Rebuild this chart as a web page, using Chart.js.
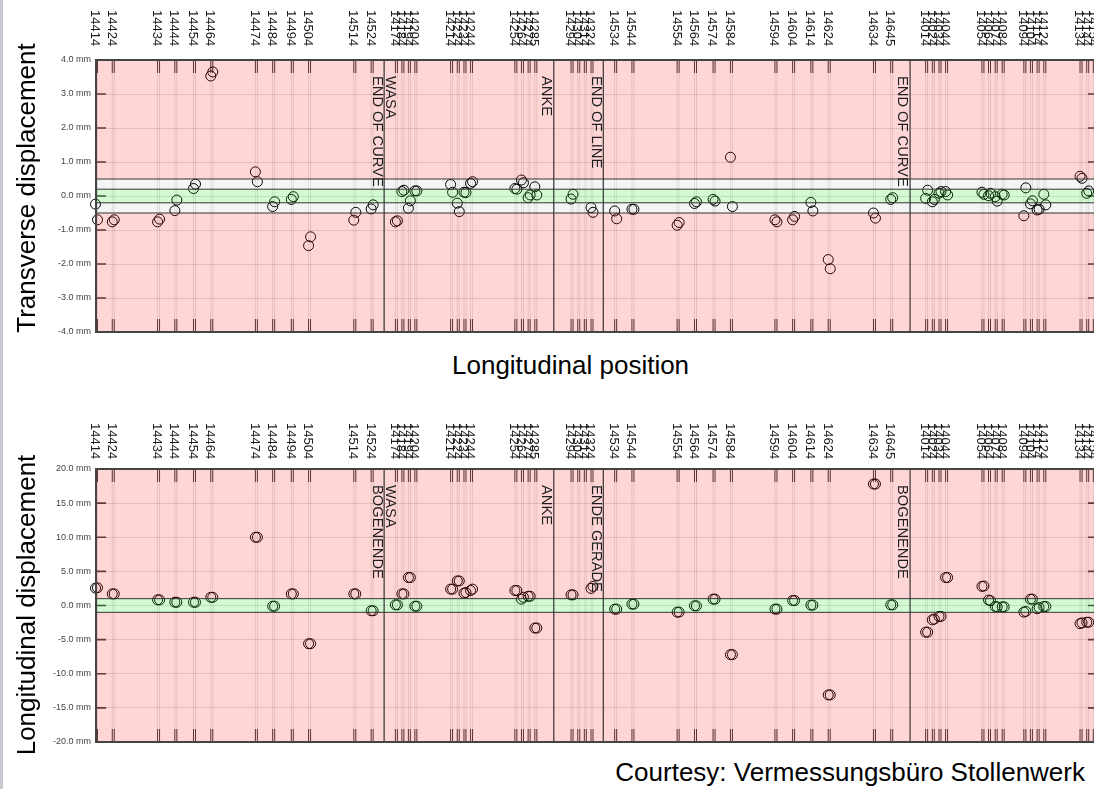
<!DOCTYPE html>
<html><head><meta charset="utf-8">
<script src="https://cdn.jsdelivr.net/npm/chart.js@4.4.1/dist/chart.umd.min.js"></script>
<style>
html,body{margin:0;padding:0;background:#fff;overflow:hidden;width:1094px;height:789px;position:relative;font-family:"Liberation Sans",Arial,sans-serif;}
#strip{position:absolute;left:0;top:0;width:3px;height:789px;background:#c9c9d0;}
#c1{position:absolute;left:0;top:0;}
#c2{position:absolute;left:0;top:409px;}
.t{position:absolute;font-size:26px;line-height:26px;color:#000;white-space:nowrap;}
.yt{position:absolute;font-size:26px;line-height:26px;height:26px;width:360px;text-align:center;color:#000;white-space:nowrap;transform:rotate(-90deg);}
</style></head><body>
<canvas id="c1" width="1104" height="345"></canvas>
<canvas id="c2" width="1104" height="345"></canvas>
<div class="yt" style="left:-154px;top:175px">Transverse displacement</div>
<div class="yt" style="left:-154px;top:592px">Longitudinal displacement</div>
<div class="t" style="left:452px;top:352px">Longitudinal position</div>
<div class="t" style="right:9px;top:759px">Courtesy: Vermessungsbüro Stollenwerk</div>
<div id="strip"></div>
<script>
// ---- data ----
const sensorIds = [14414,14424,14434,14444,14454,14464,14474,14484,14494,14504,14514,14524,
  14174,14184,14194,14204, 14214,14224,14234,14244, 14254,14264,14274,14285, 14294,14304,14314,14324,
  14534,14544,14554,14564,14574,14584,14594,14604,14614,14624,14634,14645,
  14014,14024,14034,14044, 14054,14064,14074,14084, 14094,14104,14114,14124, 14134,14144,14154,14164];
const sensorPos = [0.5,17.3,62.7,80,98.7,116,160.7,178,196.7,214,259.3,276.7,
  301,307.5,314,320.5, 356.3,363,369.7,376.3, 420.7,427.3,434,440.7, 477,483.7,490.3,497,
  520.7,538,583.3,600.7,619.3,636.7,681.3,699,717.3,734.7,780,797.3,
  832.3,839,845.7,852.3, 888.7,895.3,902,909, 930.7,937.3,944,950.7, 987,993.7,1000.3,1007];
const transA = [-0.24,-0.76,-0.76,-0.43,0.22,3.53,0.71,-0.31,-0.10,-1.46,-0.71,-0.38,
  -0.76,0.13,-0.36,0.15, 0.34,-0.21,0.11,0.37, 0.22,0.47,-0.05,0.27, -0.09,null,null,-0.34,
  -0.44,-0.39,-0.86,-0.22,-0.10,1.14,-0.70,-0.70,-0.19,-1.87,-0.50,-0.10,
  -0.07,-0.17,0.08,0.13, 0.11,0.01,-0.02,0.05, -0.58,-0.23,-0.41,0.05, 0.58,0.08,null,null];
const transB = [-0.70,-0.70,-0.68,-0.12,0.35,3.65,0.42,-0.17,-0.02,-1.20,-0.48,-0.26,
  -0.73,0.17,-0.14,0.15, 0.11,-0.46,0.10,0.42, 0.20,0.39,0.03,0.03, 0.05,null,null,-0.48,
  -0.67,-0.39,-0.78,-0.17,-0.15,-0.31,-0.76,-0.60,-0.44,-2.14,-0.65,-0.05,
  0.17,-0.10,0.13,0.03, 0.05,0.08,-0.15,0.03, 0.24,-0.14,-0.39,-0.26, 0.52,0.15,null,null];
const longA = [2.55,1.7,0.83,0.48,0.48,1.2,10.0,-0.1,1.7,-5.6,1.7,-0.77,
  0.1,1.7,4.1,-0.1, 2.4,3.6,1.8,2.2, 2.2,0.93,1.35,-3.3, 1.56,null,null,2.5,
  -0.53,0.2,-0.97,-0.05,0.93,-7.2,-0.53,0.73,0.06,-13.1,17.8,0.1,
  -3.9,-2.1,-1.6,4.1, 2.8,0.8,-0.15,-0.2, -0.97,0.93,-0.48,-0.15, -2.65,-2.45,null,null];
const longB = [2.6,1.7,0.83,0.48,0.48,1.2,10.0,-0.1,1.7,-5.6,1.7,-0.77,
  0.1,1.7,4.1,-0.1, 2.4,3.6,1.9,2.4, 2.2,1.2,1.35,-3.3, 1.56,null,null,2.8,
  -0.53,0.2,-0.97,-0.05,0.93,-7.2,-0.53,0.73,0.06,-13.1,17.8,0.1,
  -3.9,-2.0,-1.6,4.1, 2.85,0.7,-0.2,-0.2, -0.87,0.93,-0.3,-0.15, -2.55,-2.45,null,null];
const markerPos = [288.7, 458.7, 508.3, 815.7];
const markerLabelsEN = [['WASA','END OF CURVE'],['ANKE'],['END OF LINE'],['END OF CURVE']];
const markerLabelsDE = [['WASA','BOGENENDE'],['ANKE'],['ENDE GERADE'],['BOGENENDE']];
const transTolerance = [0.5, 0.2];
const longTolerance = [1.0];
const transRange = [-4, 4, 1];
const longRange = [-20, 20, 5];
const xRange = [0, 1004];

// ---- drawing ----
const PAIR = 1;
const FONT = '"Liberation Sans", Arial, sans-serif';

function zones(tol, lim) {
  const z = [];
  const outer = tol[0];
  z.push([lim, outer, 'rgba(255,0,0,0.16)']);
  z.push([-outer, -lim, 'rgba(255,0,0,0.16)']);
  if (tol.length > 1) {
    z.push([outer, tol[1], 'rgba(0,0,0,0.04)']);
    z.push([-tol[1], -outer, 'rgba(0,0,0,0.04)']);
    z.push([tol[1], -tol[1], 'rgba(0,225,0,0.17)']);
  } else {
    z.push([outer, -outer, 'rgba(0,225,0,0.17)']);
  }
  return z;
}

function makePlugin(name, tol, range, markerLabels, labelGap) {
  return {
    id: 'deco_' + name,
    beforeDatasetsDraw(chart) {
      const {ctx, chartArea: a, scales: {x, y}} = chart;
      ctx.save();
      ctx.beginPath(); ctx.rect(a.left, a.top, a.right - a.left, a.bottom - a.top); ctx.clip();
      ctx.lineWidth = 1;
      ctx.strokeStyle = 'rgba(0,0,0,0.11)';
      sensorPos.forEach(p => [-PAIR, PAIR].forEach(o => {
        const px = x.getPixelForValue(p + o);
        ctx.beginPath(); ctx.moveTo(px, a.top); ctx.lineTo(px, a.bottom); ctx.stroke();
      }));
      ctx.strokeStyle = '#3e3e3e';
      sensorPos.forEach(p => [-PAIR, PAIR].forEach(o => {
        const px = x.getPixelForValue(p + o);
        ctx.beginPath(); ctx.moveTo(px, a.top); ctx.lineTo(px, a.top + 13);
        ctx.moveTo(px, a.bottom); ctx.lineTo(px, a.bottom - 13); ctx.stroke();
      }));
      ctx.lineWidth = 1.6;
      ctx.strokeStyle = '#444';
      for (let v = range[0]; v <= range[1]; v += range[2]) {
        const py = y.getPixelForValue(v);
        ctx.beginPath(); ctx.moveTo(a.left, py); ctx.lineTo(a.left + 10, py);
        ctx.moveTo(a.right, py); ctx.lineTo(a.right - 10, py); ctx.stroke();
      }
      ctx.restore();
    },
    afterDatasetsDraw(chart) {
      const {ctx, chartArea: a, scales: {x, y}} = chart;
      ctx.save();
      ctx.beginPath(); ctx.rect(a.left, a.top, a.right - a.left, a.bottom - a.top); ctx.clip();
      zones(tol, range[1]).forEach(([v1, v2, c]) => {
        const y1 = y.getPixelForValue(v1), y2 = y.getPixelForValue(v2);
        ctx.fillStyle = c;
        ctx.fillRect(a.left, y1, a.right - a.left, y2 - y1);
      });
      ctx.strokeStyle = '#333'; ctx.lineWidth = 1;
      tol.forEach(t => [t, -t].forEach(v => {
        const py = y.getPixelForValue(v);
        ctx.beginPath(); ctx.moveTo(a.left, py); ctx.lineTo(a.right, py); ctx.stroke();
      }));
      ctx.strokeStyle = '#333'; ctx.lineWidth = 1.2;
      markerPos.forEach(p => {
        const px = x.getPixelForValue(p);
        ctx.beginPath(); ctx.moveTo(px, a.top); ctx.lineTo(px, a.bottom); ctx.stroke();
      });
      ctx.fillStyle = '#1e1e1e';
      ctx.font = '14.7px ' + FONT;
      ctx.textAlign = 'left'; ctx.textBaseline = 'alphabetic';
      markerPos.forEach((p, i) => {
        const px = x.getPixelForValue(p);
        const lines = markerLabels[i];
        lines.forEach((t, k) => {
          const bx = px - 11.6 + (lines.length - 1 - k) * 13.6;
          ctx.save(); ctx.translate(bx, a.top + 16); ctx.rotate(Math.PI / 2);
          ctx.fillText(t, 0, 0); ctx.restore();
        });
      });
      ctx.restore();
      // border
      ctx.save();
      ctx.strokeStyle = '#444'; ctx.lineWidth = 2;
      ctx.strokeRect(a.left, a.top, a.right - a.left, a.bottom - a.top);
      // sensor labels
      ctx.fillStyle = '#1a1a1a';
      ctx.font = '13px ' + FONT;
      ctx.textAlign = 'left'; ctx.textBaseline = 'alphabetic';
      sensorPos.forEach((p, i) => {
        if (p > xRange[1]) return;
        const px = x.getPixelForValue(p);
        ctx.save(); ctx.translate(px - 5.6, a.top - labelGap); ctx.rotate(Math.PI / 2);
        ctx.fillText(String(sensorIds[i]), 0, 0); ctx.restore();
      });
      ctx.restore();
    }
  };
}

function build(canvasId, valsA, valsB, tol, range, markerLabels, labelGap, padBottom) {
  const pts = (vals, off) => sensorPos.map((p, i) => ({x: p + off, y: vals[i]})).filter(d => d.y !== null);
  const ds = (vals, off) => ({
    data: pts(vals, off), showLine: false, pointRadius: 5, pointBorderWidth: 1,
    pointBorderColor: '#000', pointBackgroundColor: 'rgba(0,0,0,0)', clip: false
  });
  return new Chart(document.getElementById(canvasId), {
    type: 'scatter',
    data: {datasets: [ds(valsA, -PAIR), ds(valsB, PAIR)]},
    options: {
      responsive: false, animation: false, events: [],
      layout: {padding: {top: 60, bottom: padBottom, left: 0, right: 4}},
      plugins: {legend: {display: false}, tooltip: {enabled: false}},
      scales: {
        x: {type: 'linear', min: xRange[0], max: xRange[1], display: false},
        y: {
          min: range[0], max: range[1],
          afterFit: s => { s.width = 96; },
          border: {display: false},
          grid: {color: 'rgba(0,0,0,0.12)', lineWidth: 1, drawTicks: false},
          ticks: {stepSize: range[2], padding: 5, color: '#444',
            font: {size: 9, family: FONT},
            callback: v => v.toFixed(1) + ' mm'}
        }
      }
    },
    plugins: [makePlugin(canvasId, tol, range, markerLabels, labelGap)]
  });
}

build('c1', transA, transB, transTolerance, transRange, markerLabelsEN, 50, 13);
build('c2', longA, longB, longTolerance, longRange, markerLabelsDE, 46, 12);
</script>
</body></html>
